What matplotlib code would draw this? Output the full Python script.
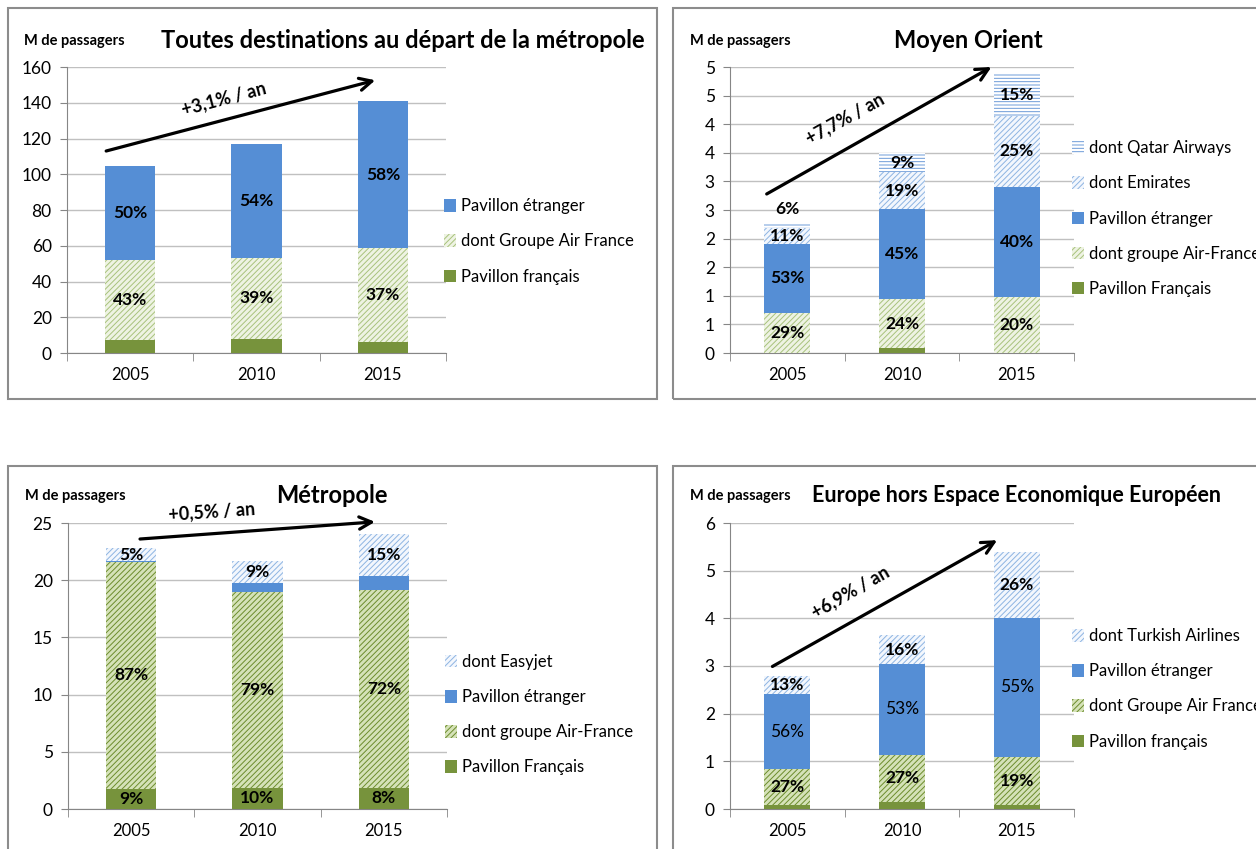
import numpy as np
import matplotlib
matplotlib.use('Agg')
import matplotlib.pyplot as plt
from matplotlib.patches import Rectangle
from matplotlib.ticker import FuncFormatter

plt.rcParams['font.family'] = ['Lato', 'DejaVu Sans']
plt.rcParams['hatch.linewidth'] = 0.7

W, H = 1256, 849
years = ['2005', '2010', '2015']

# --- Toutes destinations au départ de la métropole ---
tout_francais = [7.3, 7.8, 6.3]
tout_af = [45.0, 45.6, 52.3]
tout_etranger = [52.3, 63.3, 82.4]
tout_pct_af = ['43%', '39%', '37%']
tout_pct_etr = ['50%', '54%', '58%']

# --- Moyen Orient ---
mo_francais = [0.0, 0.08, 0.0]
mo_af = [0.70, 0.87, 0.98]
mo_etranger = [1.21, 1.56, 1.93]
mo_emirates = [0.28, 0.66, 1.24]
mo_qatar = [0.08, 0.32, 0.73]
mo_pct_af = ['29%', '24%', '20%']
mo_pct_etr = ['53%', '45%', '40%']
mo_pct_emirates = ['11%', '19%', '25%']
mo_pct_qatar = ['6%', '9%', '15%']

# --- Métropole ---
met_francais = [1.78, 1.84, 1.84]
met_af = [19.78, 17.13, 17.27]
met_etranger = [0.10, 0.79, 1.23]
met_easyjet = [1.16, 1.95, 3.67]
met_pct_fr = ['9%', '10%', '8%']
met_pct_af = ['87%', '79%', '72%']
met_pct_easyjet = ['5%', '9%', '15%']

# --- Europe hors EEE ---
eu_francais = [0.09, 0.15, 0.08]
eu_af = [0.75, 0.99, 1.02]
eu_etranger = [1.57, 1.90, 2.90]
eu_turkish = [0.37, 0.60, 1.39]
eu_pct_af = ['27%', '27%', '19%']
eu_pct_etr = ['56%', '53%', '55%']
eu_pct_turkish = ['13%', '16%', '26%']

BLUE = '#558ed5'
GREEN = '#77933c'
st_fr = dict(facecolor=GREEN, edgecolor=GREEN)
st_af_light = dict(facecolor='#eef3e3', edgecolor='#a8c27c', hatch='//////')
st_af_dark = dict(facecolor='#d5e2b8', edgecolor='#6c8c2c', hatch='//////')
st_etr = dict(facecolor=BLUE, edgecolor=BLUE)
st_blue_h = dict(facecolor='#f3f7fd', edgecolor='#8db4e2', hatch='//////')
st_qatar = dict(facecolor='white', edgecolor='#6c9bd8', hatch='-----')


def px_ax(left, top, right, bottom):
    return [left / W, 1 - bottom / H, (right - left) / W, (bottom - top) / H]


def draw_panel(ax, series, ymax, ystep, fmt, leg_y, arrow, arrow_txt, txt_pos, txt_rot):
    x = np.arange(len(years))
    bottom = np.zeros(len(years))
    handles = []
    for label, vals, style, pcts, bold in series:
        vals = np.array(vals)
        b = ax.bar(x, vals, 0.4, bottom=bottom, label=label, linewidth=0, zorder=3, **style)
        handles.append(b)
        if pcts is not None:
            for i, p in enumerate(pcts):
                if vals[i] < 0.02 * ymax:
                    yy = bottom[i] + vals[i] + 0.05 * ymax
                else:
                    yy = bottom[i] + vals[i] / 2
                ax.text(x[i], yy, p, ha='center', va='center', fontsize=12.5,
                        fontweight='bold' if bold else 'normal', zorder=5)
        bottom = bottom + vals
    ax.set_xlim(-0.5, 2.5)
    ax.set_ylim(0, ymax)
    ticks = np.arange(0, ymax + ystep / 2, ystep)
    ax.set_yticks(ticks)
    ax.yaxis.set_major_formatter(FuncFormatter(fmt))
    ax.set_xticks(x)
    ax.set_xticklabels(years)
    ax.set_xticks([-0.5, 0.5, 1.5, 2.5], minor=True)
    ax.tick_params(axis='x', which='major', length=0, pad=10, labelsize=12)
    ax.tick_params(axis='x', which='minor', length=6, color='#868686', direction='out')
    ax.tick_params(axis='y', length=5, color='#868686', labelsize=12.5, pad=6)
    ax.grid(axis='y', color='#c0c0c0', lw=1, zorder=0)
    ax.set_axisbelow(True)
    for s in ['top', 'right']:
        ax.spines[s].set_visible(False)
    for s in ['left', 'bottom']:
        ax.spines[s].set_color('#868686')
    ax.legend(handles[::-1], [h.get_label() for h in handles[::-1]], loc='center left',
              bbox_to_anchor=(0.995, leg_y), frameon=False, fontsize=12,
              handlelength=0.72, handleheight=0.78, handletextpad=0.3,
              labelspacing=1.15, borderaxespad=0, borderpad=0)
    ax.annotate('', xy=arrow[1], xytext=arrow[0], annotation_clip=False,
                arrowprops=dict(arrowstyle='->', lw=2.3, color='black',
                                mutation_scale=22, shrinkA=0, shrinkB=0), zorder=6)
    ax.text(txt_pos[0], txt_pos[1], arrow_txt, rotation=txt_rot, rotation_mode='anchor',
            ha='center', va='center', fontsize=13, fontweight='bold', clip_on=False, zorder=6)


def int_fmt(v, pos):
    return str(int(np.floor(v + 0.5)))


fig = plt.figure(figsize=(W / 100, H / 100), dpi=100)

# panel frames
for (l, t, r, b) in [(8, 8, 657, 399), (673, 8, 1262, 399), (8, 466, 657, 856), (673, 466, 1262, 856)]:
    fig.patches.append(Rectangle((l / W, 1 - b / H), (r - l) / W, (b - t) / H,
                                 transform=fig.transFigure, fill=False,
                                 edgecolor='#8c8c8c', lw=1.5))

ax1 = fig.add_axes(px_ax(67, 67, 446, 353))
draw_panel(ax1, [
    ('Pavillon français', tout_francais, st_fr, None, True),
    ('dont Groupe Air France', tout_af, st_af_light, tout_pct_af, True),
    ('Pavillon étranger', tout_etranger, st_etr, tout_pct_etr, True),
], 160, 20, int_fmt, 0.39, [(-0.19, 113), (1.94, 152.6)], '+3,1% / an', (0.74, 142), 15)

ax2 = fig.add_axes(px_ax(730, 67, 1074, 353))
draw_panel(ax2, [
    ('Pavillon Français', mo_francais, st_fr, None, True),
    ('dont groupe Air-France', mo_af, st_af_light, mo_pct_af, True),
    ('Pavillon étranger', mo_etranger, st_etr, mo_pct_etr, True),
    ('dont Emirates', mo_emirates, st_blue_h, mo_pct_emirates, True),
    ('dont Qatar Airways', mo_qatar, st_qatar, mo_pct_qatar, True),
], 5, 0.5, int_fmt, 0.47, [(-0.18, 2.78), (1.78, 5.0)], '+7,7% / an', (0.5, 4.1), 29)

ax3 = fig.add_axes(px_ax(68, 523, 447, 809))
draw_panel(ax3, [
    ('Pavillon Français', met_francais, st_fr, met_pct_fr, True),
    ('dont groupe Air-France', met_af, st_af_dark, met_pct_af, True),
    ('Pavillon étranger', met_etranger, st_etr, None, True),
    ('dont Easyjet', met_easyjet, st_blue_h, met_pct_easyjet, True),
], 25, 5, int_fmt, 0.33, [(0.07, 23.6), (1.93, 25.1)], '+0,5% / an', (0.64, 26.0), 4)

ax4 = fig.add_axes(px_ax(730, 523, 1074, 809))
draw_panel(ax4, [
    ('Pavillon français', eu_francais, st_fr, None, True),
    ('dont Groupe Air France', eu_af, st_af_dark, eu_pct_af, True),
    ('Pavillon étranger', eu_etranger, st_etr, eu_pct_etr, False),
    ('dont Turkish Airlines', eu_turkish, st_blue_h, eu_pct_turkish, True),
], 6, 1, int_fmt, 0.42, [(-0.13, 2.99), (1.83, 5.64)], '+6,9% / an', (0.55, 4.55), 30)

# titles and unit labels
def ftext(xp, yp, s, **kw):
    fig.text(xp / W, 1 - yp / H, s, va='center', **kw)

ftext(24, 41, 'M de passagers', fontsize=10.5, fontweight='bold')
ftext(403, 41, 'Toutes destinations au départ de la métropole', fontsize=17, fontweight='bold', ha='center')
ftext(690, 41, 'M de passagers', fontsize=10.5, fontweight='bold')
ftext(968, 40, 'Moyen Orient', fontsize=17, fontweight='bold', ha='center')
ftext(25, 496, 'M de passagers', fontsize=10.5, fontweight='bold')
ftext(332, 495, 'Métropole', fontsize=17, fontweight='bold', ha='center')
ftext(690, 496, 'M de passagers', fontsize=10.5, fontweight='bold')
ftext(1016, 495, 'Europe hors Espace Economique Européen', fontsize=15.5, fontweight='bold', ha='center')

fig.savefig('out.png', dpi=100)
